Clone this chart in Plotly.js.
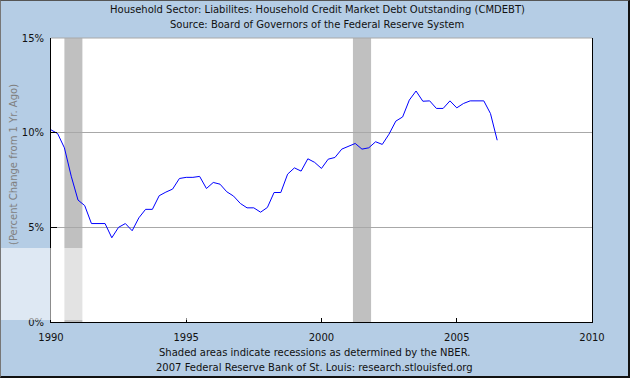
<!DOCTYPE html>
<html>
<head>
<meta charset="utf-8">
<script src="https://cdn.plot.ly/plotly-3.0.1.min.js"></script>
<style>
  html, body { margin: 0; padding: 0; background: #b5cde5; }
  #wrap { position: relative; width: 630px; height: 378px; }
  #chart { width: 630px; height: 378px; }
  #frame { position: absolute; left: 0; top: 0; width: 630px; height: 378px; box-sizing: border-box;
           border-left: 1px solid #777; border-top: 1px solid #555; border-right: 2px solid #111; border-bottom: 2px solid #111;
           pointer-events: none; }
</style>
</head>
<body>
<div id="wrap">
  <div id="chart"></div>
  <div id="frame"></div>
</div>
<script>
// Quarterly observations, 1990 Q1 .. 2006 Q3 (percent change from 1 yr ago)
const quarterDates = [
  '1990-01-01','1990-04-01','1990-07-01','1990-10-01',
  '1991-01-01','1991-04-01','1991-07-01','1991-10-01',
  '1992-01-01','1992-04-01','1992-07-01','1992-10-01',
  '1993-01-01','1993-04-01','1993-07-01','1993-10-01',
  '1994-01-01','1994-04-01','1994-07-01','1994-10-01',
  '1995-01-01','1995-04-01','1995-07-01','1995-10-01',
  '1996-01-01','1996-04-01','1996-07-01','1996-10-01',
  '1997-01-01','1997-04-01','1997-07-01','1997-10-01',
  '1998-01-01','1998-04-01','1998-07-01','1998-10-01',
  '1999-01-01','1999-04-01','1999-07-01','1999-10-01',
  '2000-01-01','2000-04-01','2000-07-01','2000-10-01',
  '2001-01-01','2001-04-01','2001-07-01','2001-10-01',
  '2002-01-01','2002-04-01','2002-07-01','2002-10-01',
  '2003-01-01','2003-04-01','2003-07-01','2003-10-01',
  '2004-01-01','2004-04-01','2004-07-01','2004-10-01',
  '2005-01-01','2005-04-01','2005-07-01','2005-10-01',
  '2006-01-01','2006-04-01','2006-07-01'
];
const pctChange = [
  10.15, 9.95, 9.2, 7.7,
  6.44, 6.15, 5.2, 5.2,
  5.2, 4.45, 5.0, 5.2,
  4.82, 5.5, 5.95, 5.95,
  6.67, 6.86, 7.02, 7.58,
  7.64, 7.64, 7.69, 7.05,
  7.37, 7.28, 6.88, 6.65,
  6.26, 6.03, 6.03, 5.8,
  6.05, 6.84, 6.84, 7.81,
  8.14, 7.97, 8.62, 8.43,
  8.11, 8.6, 8.69, 9.13,
  9.3, 9.43, 9.13, 9.2,
  9.52, 9.38, 9.92, 10.61,
  10.83, 11.72, 12.2, 11.66,
  11.68, 11.28, 11.28, 11.68,
  11.31, 11.54, 11.68, 11.68,
  11.68, 11.01, 9.6
];
// NBER recessions
const recessionStarts = ['1990-07-01', '2001-03-01'];
const recessionEnds   = ['1991-03-01', '2001-11-01'];
// Axis ticks
const xTickVals = ['1990-01-01','1995-01-01','2000-01-01','2005-01-01','2010-01-01'];
const xTickText = ['1990','1995','2000','2005','2010'];
const yTickVals = [0, 5, 10, 15];
const yTickText = ['0%', '5%', '10%', '15%'];

const titleLines = [
  'Household Sector: Liabilites: Household Credit Market Debt Outstanding (CMDEBT)',
  'Source: Board of Governors of the Federal Reserve System'
];
const footerLines = [
  'Shaded areas indicate recessions as determined by the NBER.',
  '2007 Federal Reserve Bank of St. Louis: research.stlouisfed.org'
];
const yTitle = '(Percent Change from 1 Yr. Ago)';

const W = 630, H = 378, L = 51, R = 38, T = 38, B = 56;
const pw = W - L - R, ph = H - T - B;
const px = v => (v - L) / pw;          // pixel -> paper x
const py = v => (H - B - v) / ph;      // pixel -> paper y

const FONT = 'DejaVu Sans';

const shapes = recessionStarts.map((s, i) => ({
  type: 'rect', xref: 'x', yref: 'paper', x0: s, x1: recessionEnds[i], y0: 0, y1: 1,
  fillcolor: '#c0c0c0', line: { width: 0 }, layer: 'below'
}));
// top border of plot (gray)
shapes.push({ type: 'line', xref: 'paper', yref: 'paper', x0: 0, x1: 1, y0: 1, y1: 1,
  line: { color: '#a8a8a8', width: 1 }, layer: 'above' });
// translucent watermark band of the reference image (left part only)
shapes.push({ type: 'rect', xref: 'paper', yref: 'paper', x0: px(0), x1: px(260), y0: py(320), y1: py(248),
  fillcolor: 'rgba(255,255,255,0.55)', line: { width: 0 }, layer: 'above' });

const annotations = [
  { text: titleLines[0], x: px(317), y: py(10) },
  { text: titleLines[1], x: px(317), y: py(24) },
  { text: footerLines[0], x: px(314), y: py(352) },
  { text: footerLines[1], x: px(314), y: py(367) }
].map(a => Object.assign({ xref: 'paper', yref: 'paper', showarrow: false, xanchor: 'center', yanchor: 'middle',
  font: { family: FONT, size: 10, color: '#111' } }, a));
annotations.push({ text: yTitle, xref: 'paper', yref: 'paper', x: px(13), y: py(165), textangle: -90,
  showarrow: false, xanchor: 'center', yanchor: 'middle', font: { family: FONT, size: 10, color: '#808080' } });

const trace = {
  x: quarterDates, y: pctChange, type: 'scatter', mode: 'lines',
  line: { color: '#0000ff', width: 1 }, hoverinfo: 'skip'
};

const layout = {
  width: W, height: H,
  margin: { l: L, r: R, t: T, b: B, pad: 0 },
  paper_bgcolor: '#b5cde5', plot_bgcolor: '#ffffff',
  showlegend: false,
  xaxis: {
    type: 'date', range: ['1990-01-01', '2010-01-01'], fixedrange: true,
    tickmode: 'array', tickvals: xTickVals, ticktext: xTickText,
    ticks: 'inside', ticklen: 4, tickcolor: '#000', tickwidth: 1,
    showline: true, linecolor: '#000', linewidth: 1, mirror: false,
    showgrid: false, zeroline: false,
    tickfont: { family: FONT, size: 10, color: '#111' }, ticklabelstandoff: 6
  },
  yaxis: {
    range: [0, 15], fixedrange: true,
    tickmode: 'array', tickvals: yTickVals, ticktext: yTickText,
    ticks: 'inside', ticklen: 6, tickcolor: '#000', tickwidth: 1,
    showline: true, linecolor: '#000', linewidth: 1, mirror: true,
    showgrid: true, gridcolor: '#a8a8a8', gridwidth: 1, zeroline: false,
    tickfont: { family: FONT, size: 10, color: '#111' }, ticklabelstandoff: 4
  },
  shapes: shapes,
  annotations: annotations
};

Plotly.newPlot('chart', [trace], layout, { staticPlot: true, displayModeBar: false });
</script>
</body>
</html>
